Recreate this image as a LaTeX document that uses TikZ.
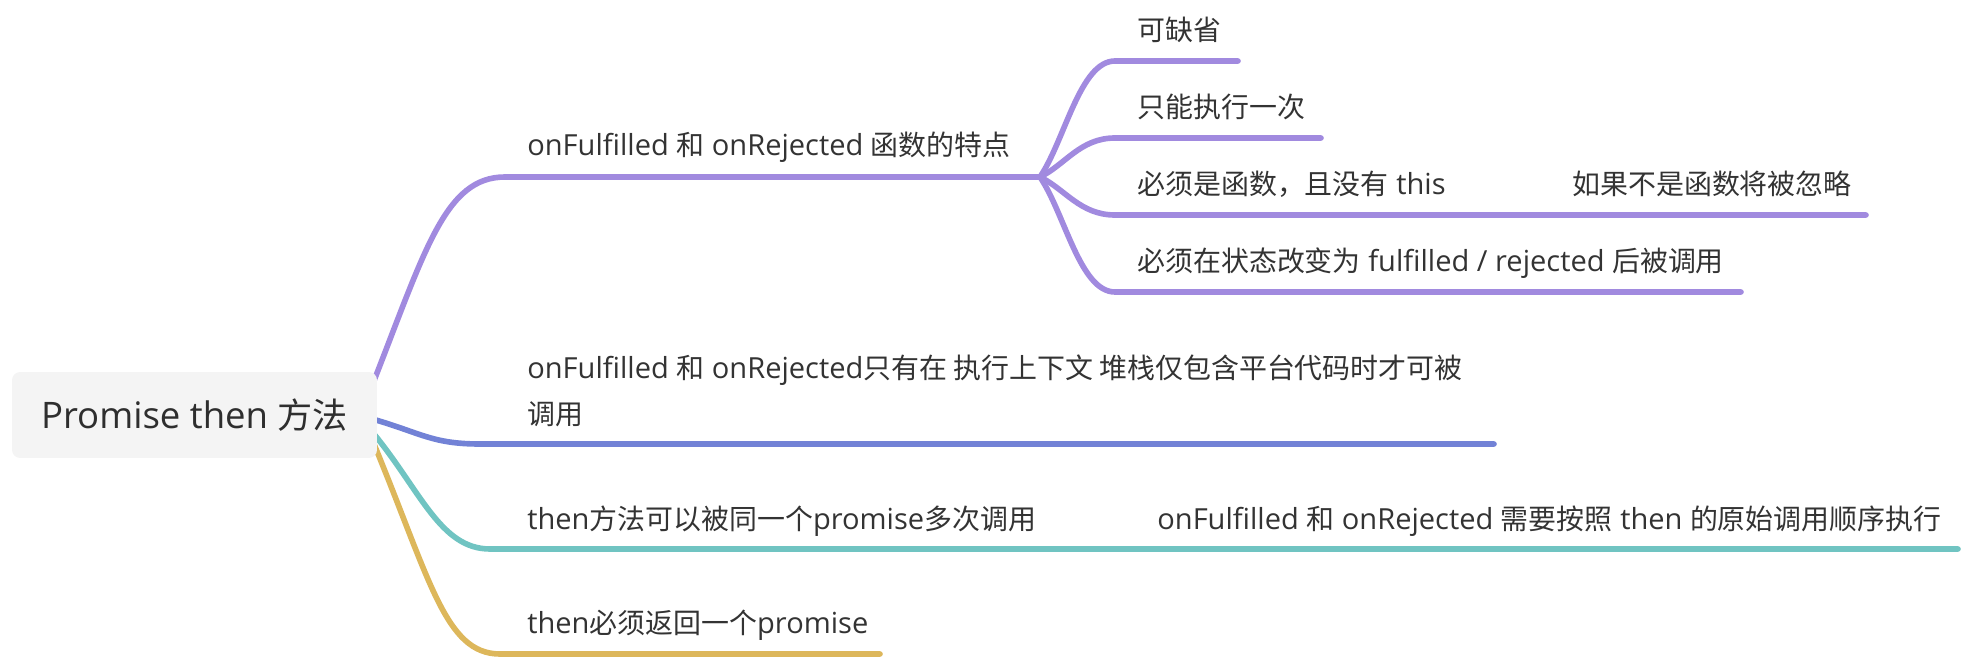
\documentclass[tikz,border=0pt]{standalone}
\usepackage{fontspec}
\setmainfont{Open Sans}[Scale=1.04]
\newfontfamily\zh{Noto Sans CJK SC}
\usepackage{tikz}
\usetikzlibrary{calc,backgrounds}
\usepackage{xcolor}
\definecolor{ink}{HTML}{333333}
\definecolor{lavender}{HTML}{A18ADF}
\definecolor{slateblue}{HTML}{7282D6}
\definecolor{teal}{HTML}{70C4C2}
\definecolor{mustard}{HTML}{DDB75B}
\definecolor{rootgray}{HTML}{F4F4F4}
\begin{document}
\begin{tikzpicture}[x=0.02cm,y=-0.02cm,
  branch/.style={line width=3.2pt,line cap=round,draw=#1},
  topic/.style={anchor=base west,inner sep=0pt,text=ink,font=\fontsize{15.9}{26.75}\selectfont,align=left},
  rootbox/.style={fill=rootgray,rounded corners=0.16cm,minimum width=7.3cm,minimum height=1.72cm,inner sep=0pt,text=ink!90!black,font=\fontsize{20}{24}\selectfont}]
\useasboundingbox (0,0) rectangle (1968,658);
\node[rootbox] (root) at (194.5,415) {Promise then {\zh 方法}};
% first branch and its four children
\node[topic] (feat) at (527,156) {onFulfilled {\zh 和} onRejected {\zh 函数的特点}};
\coordinate (featj) at (1040,177);
\node[topic] (omit) at (1137,41) {\zh 可缺省};
\node[topic] (once) at (1137,118) {\zh 只能执行一次};
\node[topic] (func) at (1137,195) {{\zh 必须是函数，且没有} this};
\node[topic] (ignore) at (1572,195) {\zh 如果不是函数将被忽略};
\node[topic] (state) at (1137,272) {{\zh 必须在状态改变为} fulfilled / rejected {\zh 后被调用}};
% other branches
\node[topic] (stack) at (527,425) {onFulfilled {\zh 和} onRejected{\zh 只有在 执行上下文 堆栈仅包含平台代码时才可被}\\{\zh 调用}};
\node[topic] (multi) at (527,529) {then{\zh 方法可以被同一个}promise{\zh 多次调用}};
\node[topic] (order) at (1157,529) {onFulfilled {\zh 和} onRejected {\zh 需要按照} then {\zh 的原始调用顺序执行}};
\node[topic] (ret) at (527,633) {then{\zh 必须返回一个}promise};
\begin{scope}[on background layer]
\draw[branch=lavender] ($(root.east)+(-5,-30)$) .. controls +(53,-135) and +(-60,0) .. (505,177) -- (featj);
\draw[branch=lavender] (featj) .. controls +(25,-37) and +(-35,0) .. (1115,61) -- (1238,61);
\draw[branch=lavender] (featj) .. controls +(25,-12) and +(-35,0) .. (1115,138) -- (1321,138);
\draw[branch=lavender] (featj) .. controls +(25,12) and +(-35,0) .. (1115,215) -- (1460,215) -- (1866,215);
\draw[branch=lavender] (featj) .. controls +(25,37) and +(-35,0) .. (1115,292) -- (1741,292);
\draw[branch=slateblue] ($(root.east)+(-12,2)$) .. controls +(55,15) and +(-50,0) .. (480,444) -- (1494,444);
\draw[branch=teal] ($(root.east)+(-5,17)$) .. controls +(48,58) and +(-50,0) .. (490,549) -- (1042,549) -- (1958,549);
\draw[branch=mustard] ($(root.east)+(-5,25)$) .. controls +(58,140) and +(-55,0) .. (500,654) -- (880,654);
\end{scope}
\end{tikzpicture}
\end{document}
